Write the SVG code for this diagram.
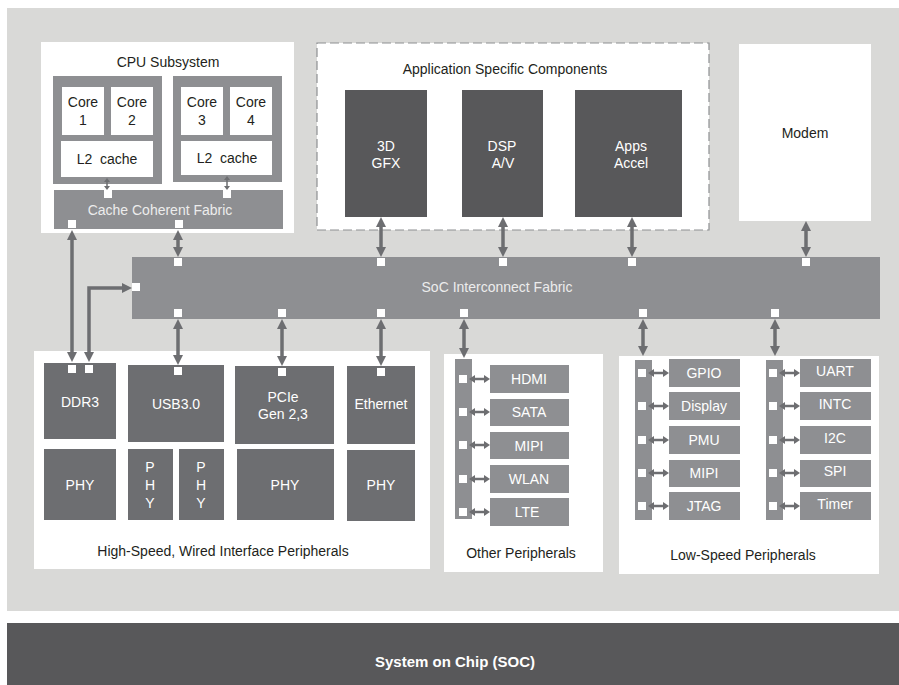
<svg xmlns="http://www.w3.org/2000/svg" width="899" height="685" viewBox="0 0 899 685">
<defs>
<style>
text{font-family:"Liberation Sans",Arial,sans-serif;font-size:14px;text-anchor:middle;dominant-baseline:central}
.dk{fill:#231f20}
.wt{fill:#ffffff}
.lt{fill:#ececec}
.white{fill:#ffffff}
.mid{fill:#8e8f92}
.hs{fill:#6d6e71}
.dark{fill:#58585a}
.sq{fill:#ffffff}
.arr{stroke:#6d6e71;stroke-width:3.5;fill:none;marker-start:url(#ah);marker-end:url(#ah)}
.arrm{stroke:#6d6e71;stroke-width:2.5;fill:none;marker-start:url(#ahm);marker-end:url(#ahm)}
.arrs{stroke:#6d6e71;stroke-width:1.5;fill:none;marker-start:url(#ahs);marker-end:url(#ahs)}
</style>
<marker id="ah" viewBox="0 0 10 10" refX="1" refY="5" markerWidth="10" markerHeight="10" markerUnits="userSpaceOnUse" orient="auto-start-reverse"><path d="M0,0 L10,5 L0,10 z" fill="#6d6e71"/></marker>
<marker id="ahm" viewBox="0 0 6 8" refX="1" refY="4" markerWidth="6" markerHeight="8" markerUnits="userSpaceOnUse" orient="auto-start-reverse"><path d="M0,0 L6,4 L0,8 z" fill="#6d6e71"/></marker>
<marker id="ahs" viewBox="0 0 4 6" refX="1" refY="3" markerWidth="4" markerHeight="6" markerUnits="userSpaceOnUse" orient="auto-start-reverse"><path d="M0,0 L4,3 L0,6 z" fill="#6d6e71"/></marker>
</defs>

<rect x="0" y="0" width="899" height="685" fill="#ffffff"/>
<rect x="7" y="8" width="892" height="603" fill="#d9d9d7"/>

<g id="soc-bar">
<rect x="7" y="623" width="892" height="62" class="dark"/>
<text x="455" y="661" class="wt" style="font-weight:bold;font-size:15px">System on Chip (SOC)</text>
</g>

<g id="cpu-subsystem">
<rect x="41" y="42" width="253" height="191" class="white"/>
<text x="168" y="62" class="dk">CPU Subsystem</text>
<rect x="53" y="76" width="109" height="108" class="mid"/>
<rect x="62" y="87" width="42" height="48" class="white"/>
<text x="83" y="102" class="dk">Core</text><text x="83" y="120" class="dk">1</text>
<rect x="111" y="87" width="42" height="48" class="white"/>
<text x="132" y="102" class="dk">Core</text><text x="132" y="120" class="dk">2</text>
<rect x="61" y="141" width="92" height="36" class="white"/>
<text x="107" y="159" class="dk" xml:space="preserve">L2  cache</text>
<rect x="173" y="76" width="109" height="106" class="mid"/>
<rect x="181" y="87" width="42" height="48" class="white"/>
<text x="202" y="102" class="dk">Core</text><text x="202" y="120" class="dk">3</text>
<rect x="230" y="87" width="42" height="48" class="white"/>
<text x="251" y="102" class="dk">Core</text><text x="251" y="120" class="dk">4</text>
<rect x="181" y="141" width="91" height="34" class="white"/>
<text x="227" y="158" class="dk" xml:space="preserve">L2  cache</text>
<rect x="54" y="190" width="229" height="39" class="mid"/>
<text x="160" y="210" class="lt">Cache Coherent Fabric</text>
<rect x="104" y="190" width="8" height="8" class="sq"/>
<rect x="223" y="190" width="8" height="8" class="sq"/>
<rect x="68" y="220" width="8" height="8" class="sq"/>
<rect x="175" y="220" width="8" height="8" class="sq"/>
</g>

<g id="app-specific">
<rect x="317" y="43" width="392" height="187" fill="#ffffff" stroke="#8e8f92" stroke-width="1.2" stroke-dasharray="9,4"/>
<text x="505" y="69" class="dk">Application Specific Components</text>
<rect x="345" y="90" width="82" height="127" class="dark"/>
<text x="386" y="146" class="wt">3D</text><text x="386" y="163" class="wt">GFX</text>
<rect x="462" y="90" width="81" height="127" class="dark"/>
<text x="502" y="146" class="wt">DSP</text><text x="503" y="163" class="wt">A/V</text>
<rect x="575" y="90" width="107" height="127" class="dark"/>
<text x="631" y="146" class="wt">Apps</text><text x="631" y="163" class="wt">Accel</text>
</g>

<g id="modem">
<rect x="739" y="44" width="132" height="177" class="white"/>
<text x="805" y="133" class="dk">Modem</text>
</g>

<g id="soc-fabric">
<rect x="132" y="257" width="748" height="62" class="mid"/>
<text x="497" y="287" class="lt">SoC Interconnect Fabric</text>
<rect x="174" y="258" width="8" height="8" class="sq"/>
<rect x="377" y="258" width="8" height="8" class="sq"/>
<rect x="499" y="258" width="8" height="8" class="sq"/>
<rect x="628" y="258" width="8" height="8" class="sq"/>
<rect x="802" y="258" width="8" height="8" class="sq"/>
<rect x="132" y="283" width="8" height="8" class="sq"/>
<rect x="174" y="309" width="8" height="8" class="sq"/>
<rect x="278" y="309" width="8" height="8" class="sq"/>
<rect x="377" y="309" width="8" height="8" class="sq"/>
<rect x="460" y="309" width="8" height="8" class="sq"/>
<rect x="639" y="309" width="8" height="8" class="sq"/>
<rect x="771" y="309" width="8" height="8" class="sq"/>
</g>

<g id="high-speed">
<rect x="34" y="351" width="396" height="218" class="white"/>
<rect x="44" y="363" width="72" height="76" class="hs"/>
<text x="80" y="402" class="wt">DDR3</text>
<rect x="68" y="365" width="8" height="8" class="sq"/>
<rect x="85" y="365" width="8" height="8" class="sq"/>
<rect x="44" y="449" width="72" height="71" class="hs"/>
<text x="80" y="485" class="wt">PHY</text>
<rect x="128" y="365" width="96" height="77" class="hs"/>
<text x="176" y="404" class="wt">USB3.0</text>
<rect x="174" y="367" width="8" height="8" class="sq"/>
<rect x="128" y="449" width="45" height="71" class="hs"/>
<text x="150" y="467" class="wt">P</text><text x="150" y="485" class="wt">H</text><text x="150" y="503" class="wt">Y</text>
<rect x="179" y="449" width="45" height="71" class="hs"/>
<text x="201" y="467" class="wt">P</text><text x="201" y="485" class="wt">H</text><text x="201" y="503" class="wt">Y</text>
<rect x="235" y="366" width="99" height="78" class="hs"/>
<text x="283" y="397" class="wt">PCIe</text><text x="283" y="414" class="wt">Gen 2,3</text>
<rect x="278" y="368" width="8" height="8" class="sq"/>
<rect x="237" y="449" width="97" height="71" class="hs"/>
<text x="285" y="485" class="wt">PHY</text>
<rect x="347" y="366" width="68" height="78" class="hs"/>
<text x="381" y="404" class="wt">Ethernet</text>
<rect x="377" y="368" width="8" height="8" class="sq"/>
<rect x="347" y="450" width="68" height="71" class="hs"/>
<text x="381" y="485" class="wt">PHY</text>
<text x="223" y="551" class="dk">High-Speed, Wired Interface Peripherals</text>
</g>

<g id="other-peripherals">
<rect x="444" y="354" width="159" height="218" class="white"/>
<rect x="455" y="359" width="17" height="160" class="mid"/>
<rect x="490" y="365" width="79" height="28" class="mid"/><text x="529" y="379" class="wt">HDMI</text>
<rect x="490" y="399" width="79" height="27" class="mid"/><text x="529" y="412" class="wt">SATA</text>
<rect x="490" y="432" width="79" height="27" class="mid"/><text x="529" y="446" class="wt">MIPI</text>
<rect x="490" y="465" width="79" height="28" class="mid"/><text x="529" y="479" class="wt">WLAN</text>
<rect x="490" y="498" width="79" height="28" class="mid"/><text x="527" y="512" class="wt">LTE</text>
<rect x="459" y="375" width="8" height="8" class="sq"/>
<rect x="459" y="408" width="8" height="8" class="sq"/>
<rect x="459" y="441" width="8" height="8" class="sq"/>
<rect x="459" y="475" width="8" height="8" class="sq"/>
<rect x="459" y="508" width="8" height="8" class="sq"/>
<text x="521" y="553" class="dk">Other Peripherals</text>
</g>

<g id="low-speed">
<rect x="619" y="356" width="260" height="218" class="white"/>
<rect x="635" y="360" width="17" height="160" class="mid"/>
<rect x="669" y="359" width="71" height="28" class="mid"/><text x="704" y="373" class="wt">GPIO</text>
<rect x="669" y="392" width="71" height="28" class="mid"/><text x="704" y="406" class="wt">Display</text>
<rect x="669" y="426" width="71" height="28" class="mid"/><text x="704" y="440" class="wt">PMU</text>
<rect x="669" y="460" width="71" height="27" class="mid"/><text x="704" y="473" class="wt">MIPI</text>
<rect x="669" y="492" width="71" height="28" class="mid"/><text x="704" y="506" class="wt">JTAG</text>
<rect x="638" y="369" width="8" height="8" class="sq"/>
<rect x="638" y="402" width="8" height="8" class="sq"/>
<rect x="638" y="436" width="8" height="8" class="sq"/>
<rect x="638" y="469" width="8" height="8" class="sq"/>
<rect x="638" y="502" width="8" height="8" class="sq"/>
<rect x="766" y="360" width="17" height="160" class="mid"/>
<rect x="800" y="359" width="71" height="28" class="mid"/><text x="835" y="371" class="wt">UART</text>
<rect x="800" y="392" width="71" height="28" class="mid"/><text x="835" y="404" class="wt">INTC</text>
<rect x="800" y="426" width="71" height="28" class="mid"/><text x="835" y="438" class="wt">I2C</text>
<rect x="800" y="460" width="71" height="27" class="mid"/><text x="835" y="471" class="wt">SPI</text>
<rect x="800" y="492" width="71" height="28" class="mid"/><text x="835" y="504" class="wt">Timer</text>
<rect x="769" y="369" width="8" height="8" class="sq"/>
<rect x="769" y="402" width="8" height="8" class="sq"/>
<rect x="769" y="436" width="8" height="8" class="sq"/>
<rect x="769" y="469" width="8" height="8" class="sq"/>
<rect x="769" y="502" width="8" height="8" class="sq"/>
<text x="743" y="555" class="dk">Low-Speed Peripherals</text>
</g>

<g id="connectors">
<line x1="107" y1="181" x2="107" y2="187" class="arrs"/>
<line x1="227" y1="179" x2="227" y2="187" class="arrs"/>
<line x1="72" y1="239" x2="72" y2="353" class="arr"/>
<path d="M89,353 L89,288 L123,288" class="arr"/>
<line x1="178" y1="239" x2="178" y2="248" class="arr"/>
<line x1="381" y1="226" x2="381" y2="248" class="arr"/>
<line x1="503" y1="226" x2="503" y2="248" class="arr"/>
<line x1="632" y1="226" x2="632" y2="248" class="arr"/>
<line x1="806" y1="230" x2="806" y2="248" class="arr"/>
<line x1="178" y1="328" x2="178" y2="356" class="arr"/>
<line x1="282" y1="328" x2="282" y2="357" class="arr"/>
<line x1="381" y1="328" x2="381" y2="357" class="arr"/>
<line x1="464" y1="328" x2="464" y2="349" class="arr"/>
<line x1="643" y1="328" x2="643" y2="347" class="arr"/>
<line x1="775" y1="328" x2="775" y2="347" class="arr"/>
<line x1="474" y1="379" x2="485" y2="379" class="arrm"/>
<line x1="474" y1="412" x2="485" y2="412" class="arrm"/>
<line x1="474" y1="445" x2="485" y2="445" class="arrm"/>
<line x1="474" y1="479" x2="485" y2="479" class="arrm"/>
<line x1="474" y1="512" x2="485" y2="512" class="arrm"/>
<line x1="653" y1="373" x2="664" y2="373" class="arrm"/>
<line x1="653" y1="406" x2="664" y2="406" class="arrm"/>
<line x1="653" y1="440" x2="664" y2="440" class="arrm"/>
<line x1="653" y1="473" x2="664" y2="473" class="arrm"/>
<line x1="653" y1="506" x2="664" y2="506" class="arrm"/>
<line x1="784" y1="373" x2="795" y2="373" class="arrm"/>
<line x1="784" y1="406" x2="795" y2="406" class="arrm"/>
<line x1="784" y1="440" x2="795" y2="440" class="arrm"/>
<line x1="784" y1="473" x2="795" y2="473" class="arrm"/>
<line x1="784" y1="506" x2="795" y2="506" class="arrm"/>
</g>
</svg>
